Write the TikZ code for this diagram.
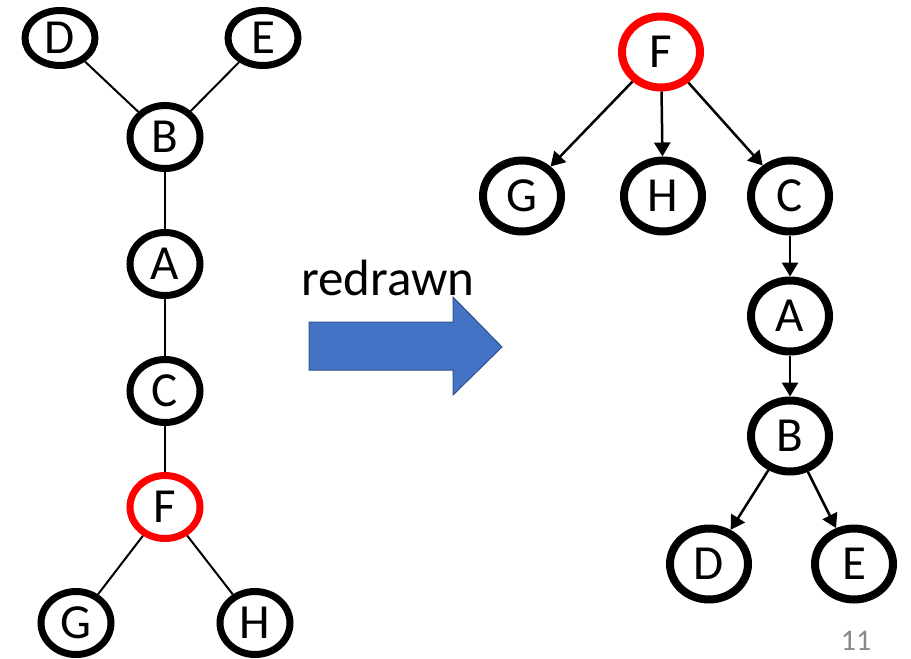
\documentclass[tikz,border=0pt]{standalone}
\usepackage{fontspec}
\setmainfont{Carlito}
\usetikzlibrary{arrows.meta,shapes.geometric}
\definecolor{fillblue}{HTML}{4472C4}
\definecolor{lineblue}{HTML}{2F528F}
\definecolor{pagegray}{HTML}{898989}
\tikzset{
	lvert/.style={ellipse, draw=black, line width=7pt, minimum width=70pt, minimum height=63pt, inner sep=0pt, font=\fontsize{49}{50}\selectfont},
	rvert/.style={ellipse, draw=black, line width=8pt, minimum width=78pt, minimum height=71pt, inner sep=0pt, font=\fontsize{49}{50}\selectfont},
	root/.style={draw=red},
	ledge/.style={line width=2pt},
	redge/.style={line width=2.5pt, -{Triangle[width=16pt,length=14pt]}}
}

\begin{document}
\begin{tikzpicture}[x=1pt, y=-1pt]
		\useasboundingbox (0, 0) rectangle (911, 659);
		
		%%%%% unrooted tree %%%%%
		\node[lvert, minimum height=55pt] (lD) at (60, 38) {D};
		\node[lvert, minimum height=55pt] (lE) at (263, 38) {E};
		\node[lvert] (lB) at (165, 137) {B};
		\node[lvert] (lA) at (165, 264) {A};
		\node[lvert] (lC) at (165, 391) {C};
		\node[lvert, root] (lF) at (165, 507) {F};
		\node[lvert] (lG) at (76, 623) {G};
		\node[lvert] (lH) at (255, 623) {H};
		
		\draw[ledge] (lD) -- (lB);
		\draw[ledge] (lE) -- (lB);
		\draw[ledge] (lB) -- (lA);
		\draw[ledge] (lA) -- (lC);
		\draw[ledge] (lC) -- (lF);
		\draw[ledge] (lF) -- (lG);
		\draw[ledge] (lF) -- (lH);
		
		%%%%% big arrow %%%%%
		\node[anchor=base, font=\fontsize{51}{52}\selectfont] (redrawn) at (388, 295) {redrawn};
		\draw[fill=fillblue, draw=lineblue, line width=1pt] (309, 322) -- (453, 322) -- (453, 297) -- (502, 347) -- (453, 395) -- (453, 370) -- (309, 370) -- cycle;
		
		%%%%% rooted at F %%%%%
		\node[rvert, root] (rF) at (661, 52) {F};
		\node[rvert] (rG) at (522, 196) {G};
		\node[rvert] (rH) at (663, 196) {H};
		\node[rvert] (rC) at (790, 196) {C};
		\node[rvert] (rA) at (790, 316) {A};
		\node[rvert] (rB) at (790, 436) {B};
		\node[rvert] (rD) at (709, 564) {D};
		\node[rvert] (rE) at (854, 564) {E};
		
		\draw[redge] (rF) -- (rG);
		\draw[redge] (rF) -- (rH);
		\draw[redge] (rF) -- (rC);
		\draw[redge] (rC) -- (rA);
		\draw[redge] (rA) -- (rB);
		\draw[redge] (rB) -- (rD);
		\draw[redge] (rB) -- (rE);
		
		\node[font=\fontsize{30}{32}\selectfont, text=pagegray] (pagenum) at (856, 641) {11};
	\end{tikzpicture}
\end{document}
